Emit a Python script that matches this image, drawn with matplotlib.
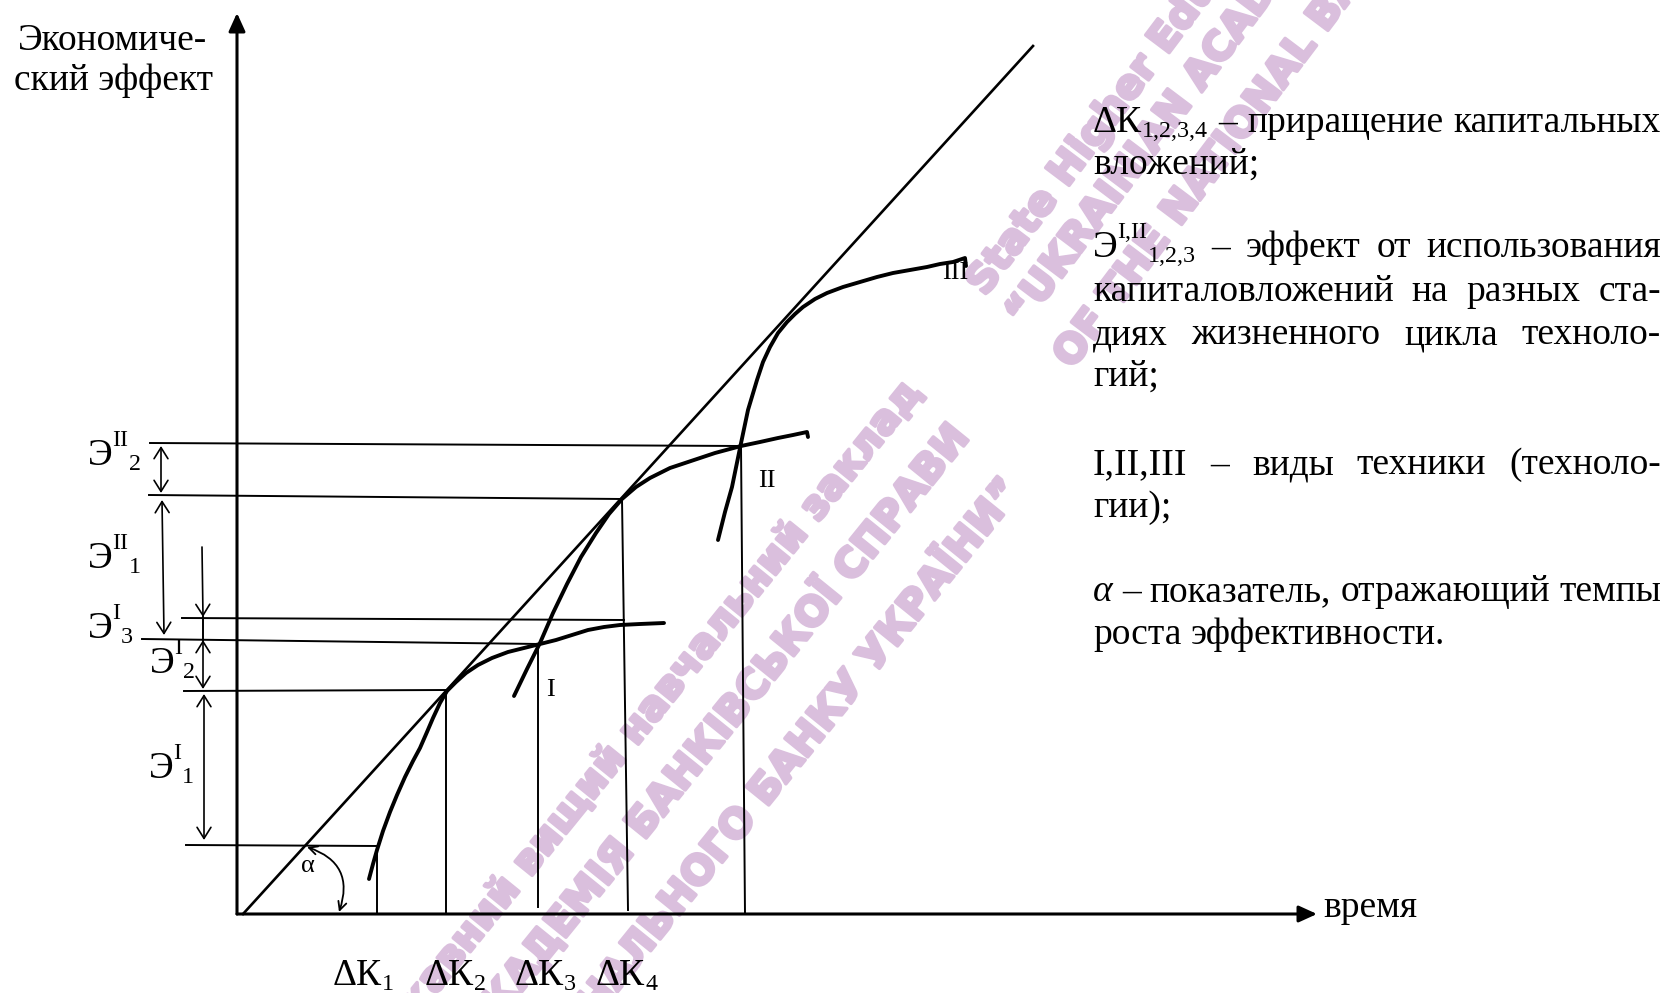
import re
import matplotlib
matplotlib.use('Agg')
import matplotlib.pyplot as plt
import matplotlib.patheffects as pe
from matplotlib import font_manager

DPI = 100
W, H = 1670, 993
plt.rcParams['font.family'] = ['Liberation Serif', 'DejaVu Serif']

# --- picture data: positions, in pixels (y grows down) ---
axis_x0, axis_y0 = 237, 914
y_axis_top = 13
x_axis_end = 1317
ray_x = [243, 1033]
ray_y = [914, 46]

curve1_x = [369, 373, 377, 383, 390, 397, 405, 413, 420, 427, 433, 440, 447, 456, 466,
            478, 492, 508, 524, 540, 556, 572, 588, 604, 620, 640, 664]
curve1_y = [879, 864, 850, 831, 812, 795, 777, 761, 748, 732, 718, 703, 691, 682, 673,
            665, 658, 652, 648, 644, 640, 635, 630, 627, 625, 624, 623]

curve2_x = [514, 527, 540, 553, 567, 581, 596, 609, 622, 636, 650, 670, 691, 715, 741,
            760, 778, 793, 807, 808]
curve2_y = [696, 669, 643, 613, 584, 557, 533, 514, 499, 487, 478, 468, 461, 453, 446,
            442, 438, 435, 432, 437]

curve3_x = [718, 725, 732, 740, 748, 757, 763, 770, 778, 787, 795, 803, 815, 827, 843,
            860, 877, 893, 910, 927, 940, 953, 965, 966]
curve3_y = [540, 512, 487, 448, 410, 380, 362, 347, 333, 322, 314, 307, 299, 293, 287,
            282, 277, 273, 270, 267, 264, 262, 258, 266]

# guide lines: x1, y1, x2, y2
h_lines = [(150, 443, 741, 446), (149, 495, 622, 499), (182, 618, 624, 620),
           (142, 639, 540, 644), (184, 691, 447, 690), (186, 845, 378, 846)]
v_lines = [(377, 848, 377, 914), (446, 690, 446, 914), (538, 644, 538, 907),
           (622, 499, 628, 910), (741, 446, 745, 914)]

# dimension arrows on the left: x1, y1, x2, y2, style
dim_arrows = [(161, 446, 161, 493, '<->'), (162, 500, 164, 635, '<->'),
              (202, 547, 203, 617, '->'), (203, 640, 203, 689, '<->'),
              (204, 694, 204, 840, '<->')]
dim_links = [(203, 617, 203, 640)]

# labels Э^sup_sub at the left: text, x, baseline
e_labels = [('Э^{II}_{2}', 88, 465), ('Э^{II}_{1}', 88, 568), ('Э^{I}_{3}', 88, 638),
            ('Э^{I}_{2}', 150, 673), ('Э^{I}_{1}', 149, 778)]
dk_labels = [('ΔК_{1}', 333, 985), ('ΔК_{2}', 425, 985), ('ΔК_{3}', 515, 985),
             ('ΔК_{4}', 596, 985)]
curve_labels = [('I', 550, 690), ('II', 767, 481), ('III', 955, 273), ('α', 308, 866)]

ylabel_lines = ['Экономиче-', 'ский эффект']
ylabel_pos = [(113, 50), (113, 90)]
xlabel = 'время'
xlabel_pos = (1323, 917)

legend_left, legend_right = 1093, 1661
legend_lines = [
    ('ΔК_{1,2,3,4} – приращение капитальных', 132, True),
    ('вложений;', 174, False),
    ('Э^{I,II}_{1,2,3} – эффект от использования', 257, True),
    ('капиталовложений на разных ста-', 301, True),
    ('диях жизненного цикла техноло-', 344, True),
    ('гий;', 386, False),
    ('I,II,III – виды техники (техноло-', 474, True),
    ('гии);', 517, False),
    ('α – показатель, отражающий темпы', 601, True),
    ('роста эффективности.', 644, False),
]

wm_ua = ['Державний вищий навчальний заклад',
         '“УКРАЇНСЬКА АКАДЕМІЯ БАНКІВСЬКОЇ СПРАВИ',
         'НАЦІОНАЛЬНОГО БАНКУ УКРАЇНИ”']
wm_ua_anchor = [(922, 394), (971, 437), (1023, 491)]
wm_en = ['State Higher Educational Institution',
         '“UKRAINIAN ACADEMY OF BANKING',
         'OF THE NATIONAL BANK OF UKRAINE”']
wm_en_anchor = [(985, 297), (1024, 328), (1072, 370)]

fig = plt.figure(figsize=(W / DPI, H / DPI), dpi=DPI)
ax = fig.add_axes([0, 0, 1, 1])
ax.set_xlim(0, W)
ax.set_ylim(H, 0)
ax.axis('off')
renderer = fig.canvas.get_renderer()

# watermark
names = {f.name for f in font_manager.fontManager.ttflist}
if 'Liberation Sans Narrow' in names:
    wm_font, wm_size = 'Liberation Sans Narrow', 37
else:
    wm_font, wm_size = 'DejaVu Sans', 29
wm_color = '#dabfdd'
wm_fx = [pe.withStroke(linewidth=2.5, foreground=wm_color)]
for txt, (x, y) in zip(wm_ua, wm_ua_anchor):
    ax.text(x, y, txt, rotation=51, rotation_mode='anchor', ha='right', va='baseline',
            fontsize=wm_size, family=wm_font, weight='bold', color=wm_color, zorder=0,
            path_effects=wm_fx)
for txt, (x, y) in zip(wm_en, wm_en_anchor):
    ax.text(x, y, txt, rotation=53, rotation_mode='anchor', ha='left', va='baseline',
            fontsize=wm_size, family=wm_font, weight='bold', color=wm_color, zorder=0,
            path_effects=wm_fx)

# axes with arrows
arrow_k = dict(arrowstyle='-|>,head_length=11,head_width=5', lw=2.2, color='k',
               shrinkA=0, shrinkB=0, mutation_scale=1)
ax.annotate('', xy=(axis_x0, y_axis_top), xytext=(axis_x0, axis_y0), arrowprops=arrow_k)
ax.annotate('', xy=(x_axis_end, axis_y0), xytext=(axis_x0, axis_y0), arrowprops=arrow_k)

ax.plot(ray_x, ray_y, color='k', lw=1.9, zorder=3)
for cx, cy in [(curve1_x, curve1_y), (curve2_x, curve2_y), (curve3_x, curve3_y)]:
    ax.plot(cx, cy, color='k', lw=2.8, solid_capstyle='round', solid_joinstyle='round', zorder=4)

for x1, y1, x2, y2 in h_lines + v_lines + dim_links:
    ax.plot([x1, x2], [y1, y2], color='k', lw=1.4, zorder=2)

for x1, y1, x2, y2, st in dim_arrows:
    ax.annotate('', xy=(x2, y2), xytext=(x1, y1),
                arrowprops=dict(arrowstyle=st + ',head_length=8,head_width=5', lw=1.2,
                                color='k', shrinkA=0, shrinkB=0, mutation_scale=1))

# angle alpha
ax.annotate('', xy=(339, 912), xytext=(307, 847),
            arrowprops=dict(arrowstyle='<->,head_length=6,head_width=3',
                            connectionstyle='arc3,rad=-0.5', lw=1.3, color='k',
                            shrinkA=0, shrinkB=0, mutation_scale=1))


def parse(s):
    out = []
    for tok in re.findall(r'\^\{[^}]*\}|_\{[^}]*\}|[^\^_]+', s):
        if tok.startswith('^{'):
            out.append((tok[2:-1], 'sup'))
        elif tok.startswith('_{'):
            out.append((tok[2:-1], 'sub'))
        else:
            out.append((tok, 'n'))
    return out


def make(s, size, style='normal'):
    items, off = [], 0.0
    px = size * DPI / 72
    for txt, kind in parse(s):
        fs = size if kind == 'n' else size * 0.64
        dy = {'n': 0, 'sub': 0.14 * px, 'sup': -0.5 * px}[kind]
        t = ax.text(0, 0, txt, fontsize=fs, fontstyle=style, ha='left', va='baseline', zorder=5)
        w = t.get_window_extent(renderer).width
        items.append((t, off, dy))
        off += w
    return items, off


def place(items, x, y):
    for t, off, dy in items:
        t.set_position((x + off, y + dy))


def width_of(s, size):
    t = ax.text(0, 0, s, fontsize=size)
    w = t.get_window_extent(renderer).width
    t.remove()
    return w


# texts
for (txt, (x, y)) in zip(ylabel_lines, ylabel_pos):
    ax.text(x, y, txt, fontsize=27, ha='center', va='baseline')
ax.text(xlabel_pos[0], xlabel_pos[1], xlabel, fontsize=27, ha='left', va='baseline')

for s, x, y in e_labels + dk_labels:
    items, _ = make(s, 27)
    place(items, x, y)

for s, x, y in curve_labels:
    ax.text(x, y, s, fontsize=19, ha='center', va='center', zorder=5)

LEG = 27
space = width_of('a a', LEG) - width_of('aa', LEG)
for s, y, justify in legend_lines:
    words = s.split(' ')
    made = [make(wd, LEG, 'italic' if wd == 'α' else 'normal') for wd in words]
    total = sum(w for _, w in made)
    gap = (legend_right - legend_left - total) / (len(made) - 1) if justify else space
    x = legend_left
    for items, w in made:
        place(items, x, y)
        x += w + gap

fig.savefig('out.png', dpi=DPI, facecolor='white')
